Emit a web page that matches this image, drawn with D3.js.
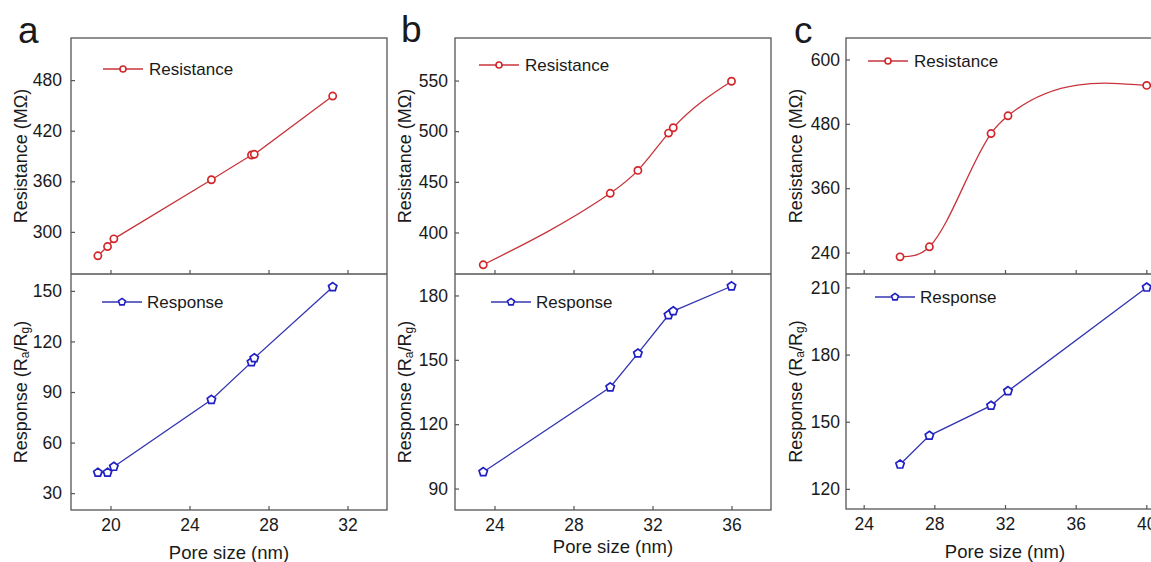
<!DOCTYPE html>
<html lang="en">
<head>
<meta charset="UTF-8">
<title>Pore size vs resistance / response</title>
<script src="https://d3js.org/d3.v7.min.js"></script>
<style>
  body { margin: 0; background: #fff; }
  text { font-family: "Liberation Sans", Arial, sans-serif; fill: #1a1a1a; }
</style>
</head>
<body>
<script>
// ---- data ----
var poreA = [19.36, 19.85, 20.17, 25.11, 27.14, 27.28, 31.25];
var resA  = [271.6, 282.6, 291.7, 361.8, 391.2, 392.0, 461.1];
var respA = [42.2, 42.2, 45.7, 85.4, 107.7, 110.1, 152.3];

var poreB = [23.43, 29.86, 31.26, 32.81, 33.05, 36.0];
var resB  = [368.1, 438.7, 461.3, 498.1, 503.4, 549.3];
var respB = [97.7, 137.2, 153.0, 170.9, 172.7, 184.3];

var poreC = [26.06, 27.72, 31.21, 32.17, 40.02];
var resC  = [232.0, 250.7, 461.9, 495.0, 551.6];
var respC = [130.9, 143.8, 157.2, 163.7, 210.0];

var xTicksA = [20, 24, 28, 32], resTicksA = [300, 360, 420, 480], respTicksA = [30, 60, 90, 120, 150];
var xTicksB = [24, 28, 32, 36], resTicksB = [400, 450, 500, 550], respTicksB = [90, 120, 150, 180];
var xTicksC = [24, 28, 32, 36, 40], resTicksC = [240, 360, 480, 600], respTicksC = [120, 150, 180, 210];

var width = 1151, height = 562;
var red = '#c8343b', redMark = '#d2262b';
var blue = '#3434b2', blueMark = '#1f1fc4';
var frameColor = '#555';

// layout of the three panels
var panels = [
  {letter:'a', lx:18, ly:43, left:71, right:387, top:38, mid:274, bottom:510,
   xDom:[18,34], resDom:[250,530], respDom:[20,160], pad:9, xLabY:559,
   pore:poreA, res:resA, resp:respA, xt:xTicksA, rt:resTicksA, pt:respTicksA, smooth:false,
   legRes:[103,69], legResp:[102,302]},
  {letter:'b', lx:401, ly:42, left:455, right:771, top:38, mid:274, bottom:510,
   xDom:[22,38], resDom:[359,592], respDom:[80,190], pad:7, xLabY:553,
   pore:poreB, res:resB, resp:respB, xt:xTicksB, rt:resTicksB, pt:respTicksB, smooth:true,
   legRes:[479,65], legResp:[491,302]},
  {letter:'c', lx:794, ly:43, left:846, right:1164, top:38, mid:274, bottom:509,
   xDom:[23,41], resDom:[200,640], respDom:[111,216], pad:6, xLabY:558,
   pore:poreC, res:resC, resp:respC, xt:xTicksC, rt:resTicksC, pt:respTicksC, smooth:true,
   legRes:[868,61], legResp:[875,297]}
];

// natural cubic spline y(x), drawn as bezier segments (like Origin's spline connect)
function curveSplineX(context) {
  var xs, ys;
  return {
    areaStart: function(){}, areaEnd: function(){},
    lineStart: function(){ xs = []; ys = []; },
    point: function(x, y){ xs.push(+x); ys.push(+y); },
    lineEnd: function(){
      var n = xs.length, i;
      if (!n) return;
      context.moveTo(xs[0], ys[0]);
      if (n < 3) { for (i = 1; i < n; i++) context.lineTo(xs[i], ys[i]); return; }
      var h = [], M = [], a = [], b = [], c = [], d = [];
      for (i = 0; i < n; i++) M.push(0);
      for (i = 0; i < n - 1; i++) h.push(xs[i+1] - xs[i]);
      for (i = 1; i < n - 1; i++) {
        a.push(h[i-1]); b.push(2 * (h[i-1] + h[i])); c.push(h[i]);
        d.push(6 * ((ys[i+1] - ys[i]) / h[i] - (ys[i] - ys[i-1]) / h[i-1]));
      }
      var m = b.length;
      for (i = 1; i < m; i++) { var w = a[i] / b[i-1]; b[i] -= w * c[i-1]; d[i] -= w * d[i-1]; }
      var sol = new Array(m);
      sol[m-1] = d[m-1] / b[m-1];
      for (i = m - 2; i >= 0; i--) sol[i] = (d[i] - c[i] * sol[i+1]) / b[i];
      for (i = 0; i < m; i++) M[i+1] = sol[i];
      for (i = 0; i < n - 1; i++) {
        var s = (ys[i+1] - ys[i]) / h[i];
        var m0 = s - h[i] * (2 * M[i] + M[i+1]) / 6;
        var m1 = s + h[i] * (M[i] + 2 * M[i+1]) / 6;
        context.bezierCurveTo(xs[i] + h[i]/3, ys[i] + m0 * h[i]/3,
                              xs[i+1] - h[i]/3, ys[i+1] - m1 * h[i]/3, xs[i+1], ys[i+1]);
      }
    }
  };
}

function pentagon(r) {
  var pts = d3.range(5).map(function(k){
    var t = -Math.PI / 2 + k * 2 * Math.PI / 5;
    return [r * Math.cos(t), r * Math.sin(t)];
  });
  return 'M' + pts.join('L') + 'Z';
}

var svg = d3.select('body').append('svg').attr('width', width).attr('height', height);

panels.forEach(function(p){
  var g = svg.append('g');
  var x = d3.scaleLinear().domain(p.xDom).range([p.left, p.right]);
  var yR = d3.scaleLinear().domain(p.resDom).range([p.mid, p.top]);
  var yP = d3.scaleLinear().domain(p.respDom).range([p.bottom, p.mid]);

  // panel letter
  g.append('text').attr('x', p.lx).attr('y', p.ly).attr('font-size', 37).text(p.letter);

  // axes (inward ticks)
  var tickCol = function(sel){
    sel.select('.domain').remove();
    sel.selectAll('line').attr('stroke', frameColor).attr('stroke-width', 1.2);
    sel.selectAll('text').attr('font-size', 17.5).attr('fill', '#1a1a1a')
       .style('font-family', '"Liberation Sans", Arial, sans-serif');
  };
  g.append('g').attr('transform', 'translate(' + p.left + ',0)')
    .call(d3.axisLeft(yR).tickValues(p.rt).tickSize(-4).tickPadding(p.pad)).call(tickCol);
  g.append('g').attr('transform', 'translate(' + p.left + ',0)')
    .call(d3.axisLeft(yP).tickValues(p.pt).tickSize(-4).tickPadding(p.pad)).call(tickCol);
  g.append('g').attr('transform', 'translate(0,' + p.mid + ')')
    .call(d3.axisBottom(x).tickValues(p.xt).tickSize(-4).tickFormat('')).call(tickCol);
  g.append('g').attr('transform', 'translate(0,' + p.bottom + ')')
    .call(d3.axisBottom(x).tickValues(p.xt).tickSize(-4).tickPadding(9)).call(tickCol);

  // frames
  g.append('rect').attr('x', p.left).attr('y', p.top)
    .attr('width', p.right - p.left).attr('height', p.bottom - p.top)
    .attr('fill', 'none').attr('stroke', frameColor).attr('stroke-width', 1.3);
  g.append('line').attr('x1', p.left).attr('x2', p.right).attr('y1', p.mid).attr('y2', p.mid)
    .attr('stroke', frameColor).attr('stroke-width', 1.3);

  // axis titles
  var yl1 = g.append('text')
    .attr('transform', 'translate(' + (p.left - 50) + ',' + ((p.top + p.mid) / 2) + ') rotate(-90)')
    .attr('text-anchor', 'middle').attr('dominant-baseline', 'central').attr('font-size', 18)
    .text('Resistance (MΩ)');
  var yl2 = g.append('text')
    .attr('transform', 'translate(' + (p.left - 50) + ',' + ((p.mid + p.bottom) / 2) + ') rotate(-90)')
    .attr('text-anchor', 'middle').attr('dominant-baseline', 'central').attr('font-size', 18);
  yl2.append('tspan').text('Response (R');
  yl2.append('tspan').attr('font-size', 12).attr('dy', 4).text('a');
  yl2.append('tspan').attr('dy', -4).text('/R');
  yl2.append('tspan').attr('font-size', 12).attr('dy', 4).text('g');
  yl2.append('tspan').attr('dy', -4).text(')');
  g.append('text').attr('x', (p.left + Math.min(p.right, 1164)) / 2 - (p.letter === 'c' ? 0 : 0))
    .attr('y', p.xLabY).attr('text-anchor', 'middle').attr('font-size', 18.5).text('Pore size (nm)');

  // data lines
  var dRes = p.pore.map(function(v, i){ return [v, p.res[i]]; });
  var dResp = p.pore.map(function(v, i){ return [v, p.resp[i]]; });
  var lineR = d3.line().x(function(d){ return x(d[0]); }).y(function(d){ return yR(d[1]); })
    .curve(p.smooth ? curveSplineX : d3.curveLinear);
  var lineP = d3.line().x(function(d){ return x(d[0]); }).y(function(d){ return yP(d[1]); });
  g.append('path').attr('d', lineR(dRes)).attr('fill', 'none').attr('stroke', red).attr('stroke-width', 1.3);
  g.append('path').attr('d', lineP(dResp)).attr('fill', 'none').attr('stroke', blue).attr('stroke-width', 1.3);

  g.selectAll('.mr').data(dRes).enter().append('circle')
    .attr('cx', function(d){ return x(d[0]); }).attr('cy', function(d){ return yR(d[1]); })
    .attr('r', 3.6).attr('fill', '#fff').attr('stroke', redMark).attr('stroke-width', 1.7);
  g.selectAll('.mp').data(dResp).enter().append('path')
    .attr('transform', function(d){ return 'translate(' + x(d[0]) + ',' + yP(d[1]) + ')'; })
    .attr('d', pentagon(4.4)).attr('fill', '#fff').attr('stroke', blueMark).attr('stroke-width', 1.7);

  // legends
  var lr = p.legRes, lp = p.legResp;
  g.append('line').attr('x1', lr[0]).attr('x2', lr[0] + 40).attr('y1', lr[1]).attr('y2', lr[1])
    .attr('stroke', red).attr('stroke-width', 1.3);
  g.append('circle').attr('cx', lr[0] + 20).attr('cy', lr[1]).attr('r', 3)
    .attr('fill', '#fff').attr('stroke', redMark).attr('stroke-width', 1.6);
  g.append('text').attr('x', lr[0] + 46).attr('y', lr[1] + 6).attr('font-size', 17).text('Resistance');
  g.append('line').attr('x1', lp[0]).attr('x2', lp[0] + 40).attr('y1', lp[1]).attr('y2', lp[1])
    .attr('stroke', blue).attr('stroke-width', 1.3);
  g.append('path').attr('transform', 'translate(' + (lp[0] + 20) + ',' + lp[1] + ')')
    .attr('d', pentagon(3.6)).attr('fill', '#fff').attr('stroke', blueMark).attr('stroke-width', 1.6);
  g.append('text').attr('x', lp[0] + 45).attr('y', lp[1] + 6).attr('font-size', 17).text('Response');
});
</script>
</body>
</html>
